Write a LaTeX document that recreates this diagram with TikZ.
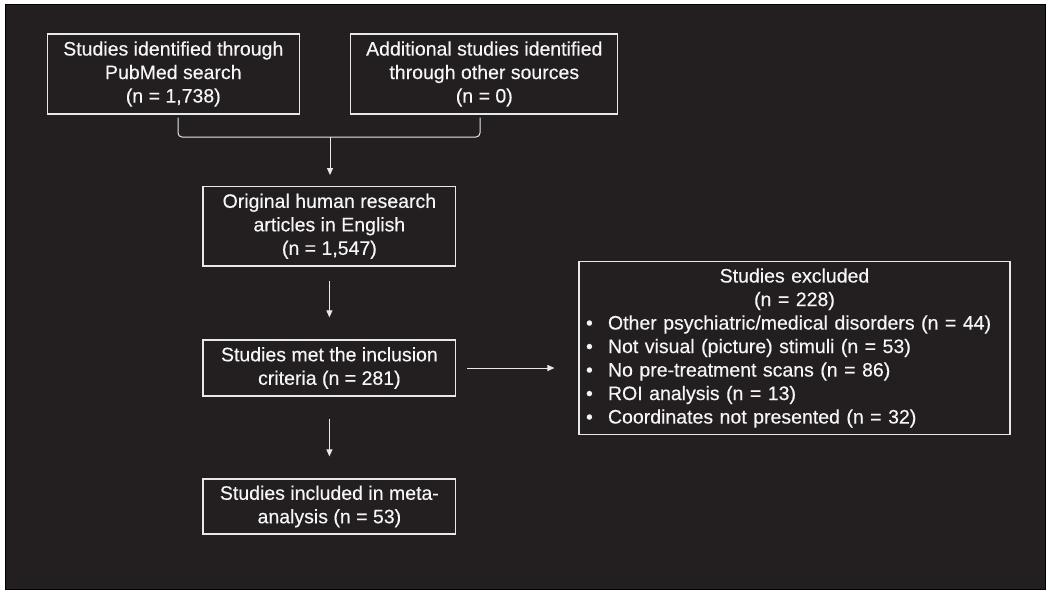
\documentclass[tikz,border=0pt]{standalone}
\usepackage{fontspec}
\setmainfont{Liberation Sans}[BoldFont={Liberation Sans}, BoldFeatures={FakeBold=0.35}]
\usetikzlibrary{arrows.meta}

\definecolor{panel}{RGB}{35,31,32}
\definecolor{lineclr}{RGB}{232,232,232}
\definecolor{txtclr}{RGB}{246,246,246}

\tikzset{
  box/.style={draw=lineclr, line width=1.2pt, text=txtclr, align=center,
    inner sep=0pt, font=\fontsize{19.5}{23.5}\selectfont\bfseries},
  flow/.style={draw=lineclr, line width=1pt, -{Triangle[width=6pt,length=7pt]}},
}
\newcommand{\exitem}[1]{\makebox[22pt][l]{\textbullet}#1}

\begin{document}
\begin{tikzpicture}[x=1pt,y=-1pt]
\useasboundingbox (0,0) rectangle (1050,594);
\fill[white] (0,0) rectangle (1050,594);
\draw[fill=panel, draw=black, line width=1pt] (5,5) rectangle (1045,589);

% identification
\node[box, minimum width=252pt, minimum height=80pt] (pubmed) at (173.3,74)
  {Studies identified through\\PubMed search\\(n = 1,738)};
\node[box, minimum width=267pt, minimum height=80pt] (other) at (484.3,74)
  {Additional studies identified\\through other sources\\(n = 0)};

% screening
\node[box, minimum width=252.7pt, minimum height=79.3pt] (english) at (329.4,226.3)
  {Original human research\\articles in English\\(n = 1,547)};
\node[box, minimum width=252.7pt, minimum height=56pt] (criteria) at (329.4,368)
  {Studies met the inclusion\\criteria (n = 281)};
\node[box, minimum width=252.7pt, minimum height=55pt] (included) at (329.4,506.5)
  {Studies included in meta-\\analysis (n = 53)};

% exclusions
\node[box, text width=417pt, inner xsep=7pt, minimum height=172.3pt, align=left] (excluded) at (794.5,348)
  {{\centering Studies excluded\\(n = 228)\par}
   \exitem{Other psychiatric/medical disorders (n = 44)}\\
   \exitem{Not visual (picture) stimuli (n = 53)}\\
   \exitem{No pre-treatment scans (n = 86)}\\
   \exitem{ROI analysis (n = 13)}\\
   \exitem{Coordinates not presented (n = 32)}};

% merge bracket
\coordinate (join) at (330,137);
\draw[draw=lineclr, line width=1pt, rounded corners=4pt]
  ([yshift=-3pt]pubmed.south -| 178,0) |- (join) -| ([yshift=-3pt]other.south -| 480,0);
\draw[flow, shorten >=11pt] (join) -- (english.north -| join);

\draw[flow, shorten <=14pt, shorten >=22pt] (english) -- (criteria);
\draw[flow, shorten <=22pt, shorten >=22pt] (criteria) -- (included);
\draw[flow, shorten <=11pt, shorten >=24pt] (criteria) -- (excluded.west |- criteria);
\end{tikzpicture}
\end{document}
